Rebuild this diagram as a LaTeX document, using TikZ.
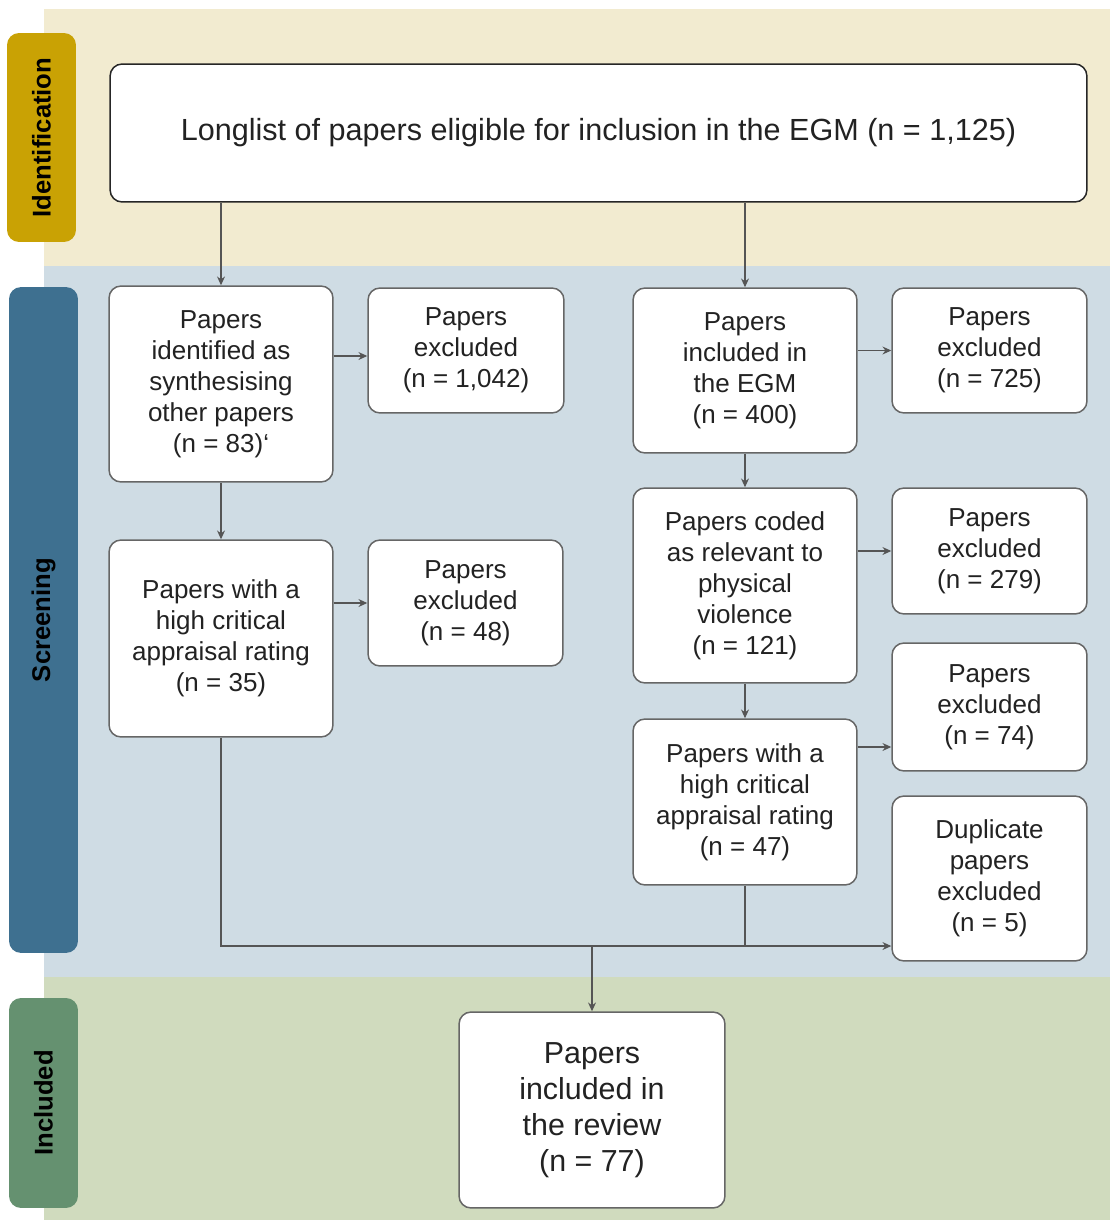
\documentclass[tikz,border=0pt]{standalone}
\usepackage{fontspec}
\setmainfont{Liberation Sans}
\usetikzlibrary{arrows.meta,calc}
\definecolor{bandY}{HTML}{F2EBD0}
\definecolor{bandB}{HTML}{CFDCE4}
\definecolor{bandG}{HTML}{D0DBBE}
\definecolor{labY}{HTML}{C9A204}
\definecolor{labB}{HTML}{3E7090}
\definecolor{labG}{HTML}{659170}
\definecolor{txt}{HTML}{222222}
\definecolor{edge}{HTML}{666666}
\definecolor{conn}{HTML}{555555}
\tikzset{
  box/.style={draw=edge, line width=0.85pt, fill=white, rounded corners=0.24cm,
    align=center, text=txt, inner sep=0pt,
    font=\fontsize{14.8pt}{17.6pt}\selectfont},
  phase/.style={rounded corners=0.24cm, inner sep=0pt, minimum width=1.38cm,
    text=black, font=\fontsize{14.6pt}{17pt}\selectfont\bfseries},
  arr/.style={draw=conn, line width=0.6pt, -{Stealth[length=5pt,width=4.5pt]}},
  ln/.style={draw=conn, line width=0.6pt}
}
\begin{document}
\begin{tikzpicture}[x=0.02cm,y=-0.02cm]
\useasboundingbox (0,0) rectangle (1110,1220);
% bands
\fill[bandY] (44,9) rectangle (1110,266);
\fill[bandB] (44,266) rectangle (1110,977);
\fill[bandG] (44,977) rectangle (1110,1220);
% phase labels
\node[phase, fill=labY, minimum height=4.18cm] (lid) at (41.5,137.5) {};
\node[rotate=90, font=\fontsize{14.6pt}{17pt}\selectfont\bfseries, text=black] (lidt) at (lid.center) {Identification};
\node[phase, fill=labB, minimum height=13.32cm] (lsc) at (43.5,620) {};
\node[rotate=90, font=\fontsize{14.6pt}{17pt}\selectfont\bfseries, text=black] (lsct) at (lsc.center) {Screening};
\node[phase, fill=labG, minimum height=4.2cm] (lin) at (43.5,1103) {};
\node[rotate=90, font=\fontsize{14.6pt}{17pt}\selectfont\bfseries, text=black] (lint) at (lin.center) {Included};
% boxes
\node[box, draw=black!85, minimum width=19.54cm, minimum height=2.76cm,
  font=\fontsize{17.4pt}{20pt}\selectfont] (top) at (598.5,133)
  {Longlist of papers eligible for inclusion in the EGM (n = 1,125)};
\node[box, minimum width=4.48cm, minimum height=3.92cm] (P1) at (221,384)
  {Papers\\identified as\\synthesising\\other papers\\(n = 83)\symbol{96}};
\node[box, minimum width=3.92cm, minimum height=2.5cm] (E1) at (466,350.5)
  {Papers\\excluded\\(n = 1,042)};
\node[box, minimum width=4.48cm, minimum height=3.3cm] (P2) at (745,370.5)
  {Papers\\included in\\the EGM\\(n = 400)};
\node[box, minimum width=3.9cm, minimum height=2.5cm] (E2) at (989.5,350.5)
  {Papers\\excluded\\(n = 725)};
\node[box, minimum width=4.48cm, minimum height=3.94cm] (P3) at (221,638.5)
  {Papers with a\\high critical\\appraisal rating\\(n = 35)};
\node[box, minimum width=3.9cm, minimum height=2.52cm] (E3) at (465.5,603)
  {Papers\\excluded\\(n = 48)};
\node[box, minimum width=4.48cm, minimum height=3.9cm] (P4) at (745,585.5)
  {Papers coded\\as relevant to\\physical\\violence\\(n = 121)};
\node[box, minimum width=3.9cm, minimum height=2.52cm] (E4) at (989.5,551)
  {Papers\\excluded\\(n = 279)};
\node[box, minimum width=3.9cm, minimum height=2.56cm] (E5) at (989.5,707)
  {Papers\\excluded\\(n = 74)};
\node[box, minimum width=4.48cm, minimum height=3.32cm] (P5) at (745,802)
  {Papers with a\\high critical\\appraisal rating\\(n = 47)};
\node[box, minimum width=3.9cm, minimum height=3.3cm] (E6) at (989.5,878.5)
  {Duplicate\\papers\\excluded\\(n = 5)};
\node[box, minimum width=5.32cm, minimum height=3.92cm,
  font=\fontsize{17.3pt}{20.4pt}\selectfont] (F) at (592,1110)
  {Papers\\included in\\the review\\(n = 77)};
% connectors
\draw[arr] (top.south -| P1.north) -- (P1.north);
\draw[arr] (top.south -| P2.north) -- (P2.north);
\draw[arr] (P1.east |- 0,356) -- (E1.west |- 0,356);
\draw[arr] (P2.east |- E2.west) -- (E2.west);
\draw[arr] (P1.south) -- (P3.north);
\draw[arr] (P3.east |- E3.west) -- (E3.west);
\draw[arr] (P2.south) -- (P4.north);
\draw[arr] (P4.east |- E4.west) -- (E4.west);
\draw[arr] (P4.south) -- (P5.north);
\draw[arr] (P5.east |- 0,747) -- (E5.west |- 0,747);
\coordinate (j) at (592,946);
\draw[arr] (P3.south) |- (E6.west |- j);
\draw[ln] (P5.south) -- (P5.south |- j);
\draw[arr] (j) -- (F.north);
\end{tikzpicture}
\end{document}
